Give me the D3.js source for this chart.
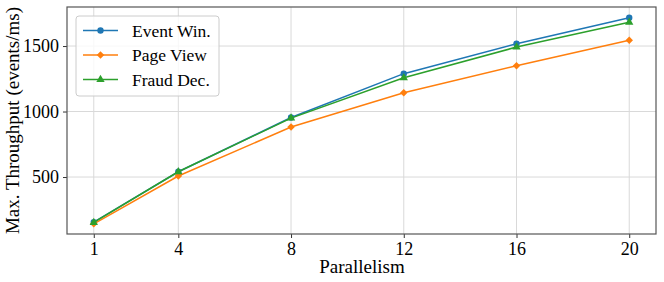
<!DOCTYPE html>
<html>
<head>
<meta charset="utf-8">
<script src="https://cdn.jsdelivr.net/npm/d3@7"></script>
<style>
  body { margin: 0; background: #fff; }
  text { font-family: "Liberation Serif", "DejaVu Serif", serif; fill: #000; }
</style>
</head>
<body>
<div id="chart-area"></div>
<script>
// data
var parallelism = [1, 4, 8, 12, 16, 20];
var eventWin  = [156, 540, 954, 1289, 1518, 1716];
var pageView  = [143, 508, 882, 1144, 1350, 1544];
var fraudDec  = [153, 540, 950, 1258, 1492, 1681];
var xTicks = [1, 4, 8, 12, 16, 20];
var yTicks = [500, 1000, 1500];

var series = [
    { name: "Event Win.", values: eventWin, color: "#1f77b4", marker: d3.symbolCircle, size: 32, rot: 0 },
    { name: "Page View",  values: pageView, color: "#ff7f0e", marker: d3.symbolSquare, size: 28, rot: 45 },
    { name: "Fraud Dec.", values: fraudDec, color: "#2ca02c", marker: d3.symbolTriangle, size: 30, rot: 0 }
];

var margin = { left: 67, right: 8, top: 7, bottom: 48 };
var width = 664 - margin.left - margin.right;
var height = 282 - margin.top - margin.bottom;

var svg = d3.select("#chart-area")
    .append("svg")
        .attr("width", 664)
        .attr("height", 282);

var g = svg.append("g")
    .attr("transform", "translate(" + margin.left + "," + margin.top + ")");

var x = d3.scaleLinear()
    .domain([0.05, 20.95])
    .range([0, width]);

var y = d3.scaleLinear()
    .domain([65, 1798])
    .range([height, 0]);

// grid
g.append("g").selectAll("line")
    .data(xTicks)
    .enter().append("line")
        .attr("x1", function(d){ return x(d); })
        .attr("x2", function(d){ return x(d); })
        .attr("y1", 0)
        .attr("y2", height)
        .attr("stroke", "#d9d9d9")
        .attr("stroke-width", 1);

g.append("g").selectAll("line")
    .data(yTicks)
    .enter().append("line")
        .attr("x1", 0)
        .attr("x2", width)
        .attr("y1", function(d){ return y(d); })
        .attr("y2", function(d){ return y(d); })
        .attr("stroke", "#d9d9d9")
        .attr("stroke-width", 1);

// axes
var xAxisCall = d3.axisBottom(x).tickValues(xTicks).tickSize(4).tickPadding(4).tickFormat(d3.format("d"));
var yAxisCall = d3.axisLeft(y).tickValues(yTicks).tickSize(4).tickPadding(4).tickFormat(d3.format("d"));

var xg = g.append("g")
    .attr("transform", "translate(0," + height + ")")
    .call(xAxisCall);
var yg = g.append("g")
    .call(yAxisCall);

[xg, yg].forEach(function(a){
    a.select(".domain").remove();
    a.selectAll("line").attr("stroke", "#333");
    a.selectAll("text")
        .attr("font-size", "18px")
        .attr("font-family", "Liberation Serif, serif")
        .attr("fill", "#000");
});

// frame
g.append("rect")
    .attr("x", 0)
    .attr("y", 0)
    .attr("width", width)
    .attr("height", height)
    .attr("fill", "none")
    .attr("stroke", "#555")
    .attr("stroke-width", 1.2);

// lines + markers
var line = d3.line()
    .x(function(d, i){ return x(parallelism[i]); })
    .y(function(d){ return y(d); });

series.forEach(function(s){
    g.append("path")
        .datum(s.values)
        .attr("d", line)
        .attr("fill", "none")
        .attr("stroke", s.color)
        .attr("stroke-width", 1.5);

    g.selectAll(null)
        .data(s.values)
        .enter().append("path")
            .attr("d", d3.symbol().type(s.marker).size(s.size))
            .attr("transform", function(d, i){
                return "translate(" + x(parallelism[i]) + "," + y(d) + ") rotate(" + s.rot + ")";
            })
            .attr("fill", s.color);
});

// legend
var legend = g.append("g")
    .attr("transform", "translate(9,9)");

legend.append("rect")
    .attr("width", 143)
    .attr("height", 80)
    .attr("rx", 3)
    .attr("fill", "#fff")
    .attr("fill-opacity", 0.8)
    .attr("stroke", "#ccc");

series.forEach(function(s, i){
    var row = legend.append("g")
        .attr("transform", "translate(0," + (14.5 + i * 24.5) + ")");
    row.append("line")
        .attr("x1", 7)
        .attr("x2", 42)
        .attr("stroke", s.color)
        .attr("stroke-width", 1.5);
    row.append("path")
        .attr("d", d3.symbol().type(s.marker).size(s.size))
        .attr("transform", "translate(24.5,0) rotate(" + s.rot + ")")
        .attr("fill", s.color);
    row.append("text")
        .attr("x", 56)
        .attr("y", 6)
        .attr("font-size", "17.5px")
        .text(s.name);
});

// axis labels
svg.append("text")
    .attr("x", 362)
    .attr("y", 273)
    .attr("font-size", "19px")
    .attr("text-anchor", "middle")
    .text("Parallelism");

svg.append("text")
    .attr("transform", "translate(19," + (margin.top + height / 2) + ") rotate(-90)")
    .attr("font-size", "19px")
    .attr("text-anchor", "middle")
    .text("Max. Throughput (events/ms)");
</script>
</body>
</html>
